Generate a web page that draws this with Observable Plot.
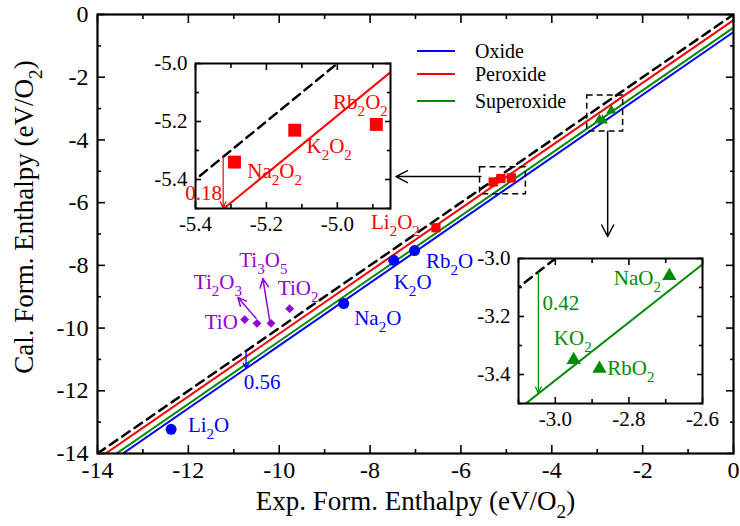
<!DOCTYPE html>
<html>
<head>
<meta charset="utf-8">
<script src="https://cdn.jsdelivr.net/npm/d3@7"></script>
<script src="https://cdn.jsdelivr.net/npm/@observablehq/plot@0.6"></script>
<style>
  html, body { margin: 0; padding: 0; background: white; }
  #wrap { position: relative; width: 740px; height: 526px; font-family: 'Liberation Serif', serif; }
  #wrap > svg { position: absolute; overflow: visible; }
</style>
</head>
<body>
<div id="wrap"></div>
<script>
// ---------------- data ----------------
const oxideNames = ["Li_2O", "Na_2O", "K_2O", "Rb_2O"];
const oxideExp = [-12.38, -8.58, -7.48, -7.02];
const oxideCal = [-13.23, -9.22, -7.84, -7.53];

const peroxideNames = ["Li_2O_2", "Na_2O_2", "K_2O_2", "Rb_2O_2"];
const peroxideExp = [-6.55, -5.29, -5.12, -4.89];
const peroxideCal = [-6.80, -5.34, -5.23, -5.21];

const superoxideNames = ["NaO_2", "KO_2", "RbO_2"];
const superoxideExp = [-2.69, -2.95, -2.88];
const superoxideCal = [-3.06, -3.35, -3.38];

const tiNames = ["TiO", "Ti_2O_3", "Ti_3O_5", "TiO_2"];
const tiExp = [-10.76, -10.49, -10.18, -9.77];
const tiCal = [-9.73, -9.85, -9.85, -9.38];

const fitSeries = ["Oxide", "Peroxide", "Superoxide"];
const fitShift = [0.56, 0.18, 0.42];
const fitColors = ["#0000ff", "#ff0000", "#008c00"];
const tiColor = "#9400d3";

const mainTicksMajor = [-14, -12, -10, -8, -6, -4, -2, 0];
const mainTicksMinor = [-13, -11, -9, -7, -5, -3, -1];

const inset1XMajor = [-5.4, -5.2, -5.0];
const inset1XMinor = [-5.3, -5.1, -4.9];
const inset1YMajor = [-5.4, -5.2, -5.0];
const inset1YMinor = [-5.5, -5.3, -5.1];
const inset2XMajor = [-3.0, -2.8, -2.6];
const inset2XMinor = [-3.1, -2.9, -2.7];
const inset2YMajor = [-3.4, -3.2, -3.0];
const inset2YMinor = [-3.5, -3.3, -3.1];

// ---------------- derived tables ----------------
const zipPts = (names, xs, ys) => names.map((n, i) => ({name: n, x: xs[i], y: ys[i]}));
const oxides = zipPts(oxideNames, oxideExp, oxideCal);
const peroxides = zipPts(peroxideNames, peroxideExp, peroxideCal);
const superoxides = zipPts(superoxideNames, superoxideExp, superoxideCal);
const tis = zipPts(tiNames, tiExp, tiCal);

const span = [-14, 0];
const refLine = span.map(v => ({x: v, y: v}));
const fitLines = fitSeries.flatMap((s, i) => span.map(v => ({series: s, x: v, y: v - fitShift[i]})));

// annotation label anchors (data units)
const mainLabels = [
  {t: "Li_2O", x: -12.01, y: -13.10, c: fitColors[0]},
  {t: "Na_2O", x: -8.35, y: -9.69, c: fitColors[0]},
  {t: "K_2O", x: -7.48, y: -8.55, c: fitColors[0]},
  {t: "Rb_2O", x: -6.77, y: -7.87, c: fitColors[0]},
  {t: "Li_2O_2", x: -7.98, y: -6.62, c: fitColors[1]},
  {t: "Ti_2O_3", x: -11.88, y: -8.54, c: tiColor},
  {t: "Ti_3O_5", x: -10.88, y: -7.84, c: tiColor},
  {t: "TiO_2", x: -10.03, y: -8.74, c: tiColor},
  {t: "0.56", x: -10.78, y: -11.72, c: fitColors[0]}
];
const mainLabelsEnd = [
  {t: "TiO", x: -10.91, y: -9.81, c: tiColor}
];
const zoomBoxes = [
  {x1: -5.58, x2: -4.57, y1: -5.73, y2: -4.87},
  {x1: -3.22, x2: -2.43, y1: -3.73, y2: -2.58}
];
const boxArrows = [
  {x1: -5.56, y1: -5.17, x2: -7.43, y2: -5.17},
  {x1: -2.77, y1: -3.73, x2: -2.77, y2: -7.08}
];
const tiArrows = [
  {x1: -10.51, y1: -9.69, x2: -10.91, y2: -9.02},
  {x1: -10.21, y1: -9.76, x2: -10.36, y2: -8.42}
];
const gapArrowMain = [{x1: -10.73, y1: -10.73, x2: -10.73, y2: -11.29}];

const inset1Labels = [
  {t: "Rb_2O_2", x: -5.012, y: -5.133},
  {t: "K_2O_2", x: -5.087, y: -5.286},
  {t: "Na_2O_2", x: -5.254, y: -5.372}
];
const inset1Gap = [{x1: -5.322, y1: -5.322, x2: -5.322, y2: -5.5}];
const inset2Labels = [
  {t: "NaO_2", x: -2.841, y: -3.069},
  {t: "KO_2", x: -3.004, y: -3.276},
  {t: "RbO_2", x: -2.859, y: -3.379},
  {t: "0.42", x: -3.035, y: -3.155}
];
const inset2Gap = [{x1: -3.046, y1: -3.046, x2: -3.046, y2: -3.466}];

// ---------------- helpers ----------------
const fmtInt = d => String(d);
const fmt1 = d => d.toFixed(1);
function frameAxes(xMaj, xMin, yMaj, yMin, fmt, fs, major, minor, padX, padY) {
  const none = () => "";
  return [
    Plot.axisX({anchor: "bottom", ticks: xMaj, tickSize: 0, tickPadding: padX, tickFormat: fmt, fontSize: fs, label: null}),
    Plot.axisY({anchor: "left", ticks: yMaj, tickSize: 0, tickPadding: padY, tickFormat: fmt, fontSize: fs, label: null}),
    ...["bottom", "top"].flatMap(an => [
      Plot.axisX({anchor: an, ticks: xMaj, tickSize: -major, tickFormat: none, label: null, strokeWidth: 1.6}),
      Plot.axisX({anchor: an, ticks: xMin, tickSize: -minor, tickFormat: none, label: null, strokeWidth: 1.6})
    ]),
    ...["left", "right"].flatMap(an => [
      Plot.axisY({anchor: an, ticks: yMaj, tickSize: -major, tickFormat: none, label: null, strokeWidth: 1.6}),
      Plot.axisY({anchor: an, ticks: yMin, tickSize: -minor, tickFormat: none, label: null, strokeWidth: 1.6})
    ])
  ];
}
function subify(root) {
  root.querySelectorAll("text").forEach(t => {
    const s = t.textContent;
    if (!s.includes("_")) return;
    const fs = parseFloat(getComputedStyle(t).fontSize);
    const parts = s.split(/(_\w)/).filter(p => p !== "");
    t.textContent = "";
    let lowered = false;
    for (const p of parts) {
      const ts = document.createElementNS("http://www.w3.org/2000/svg", "tspan");
      if (p.startsWith("_")) {
        ts.textContent = p.slice(1);
        ts.setAttribute("font-size", (fs * 0.72).toFixed(1));
        if (!lowered) { ts.setAttribute("dy", (fs * 0.33).toFixed(1)); lowered = true; }
      } else {
        ts.textContent = p;
        if (lowered) { ts.setAttribute("dy", (-fs * 0.33).toFixed(1)); lowered = false; }
      }
      t.appendChild(ts);
    }
  });
}
const baseStyle = {fontFamily: "'Liberation Serif', serif", fontSize: "20px", color: "black", background: "transparent", overflow: "visible"};
const colorScale = {domain: fitSeries, range: fitColors};

// ---------------- main plot ----------------
const main = Plot.plot({
  width: 740, height: 526,
  marginLeft: 97, marginRight: 7, marginTop: 14, marginBottom: 73,
  x: {domain: [-14, 0]},
  y: {domain: [-14, 0]},
  color: colorScale,
  style: baseStyle,
  marks: [
    Plot.line(refLine, {x: "x", y: "y", stroke: "black", strokeWidth: 2.5, strokeDasharray: "9,6", clip: true}),
    Plot.line(fitLines, {x: "x", y: "y", z: "series", stroke: "series", strokeWidth: 2, clip: true}),
    Plot.rect(zoomBoxes, {x1: "x1", x2: "x2", y1: "y1", y2: "y2", fill: "none", stroke: "black", strokeWidth: 1.5, strokeDasharray: "6,4"}),
    Plot.arrow(boxArrows, {x1: "x1", y1: "y1", x2: "x2", y2: "y2", stroke: "black", strokeWidth: 1.5, headLength: 13, headAngle: 55}),
    Plot.arrow(tiArrows, {x1: "x1", y1: "y1", x2: "x2", y2: "y2", stroke: tiColor, strokeWidth: 1.5, headLength: 10, headAngle: 50}),
    Plot.arrow(gapArrowMain, {x1: "x1", y1: "y1", x2: "x2", y2: "y2", stroke: fitColors[0], strokeWidth: 1.3, headLength: 8, headAngle: 55}),
    Plot.dot(oxides, {x: "x", y: "y", r: 5.5, fill: fitColors[0], symbol: "circle"}),
    Plot.dot(peroxides, {x: "x", y: "y", r: 5.2, fill: fitColors[1], symbol: "square"}),
    Plot.dot(superoxides, {x: "x", y: "y", r: 3.8, fill: fitColors[2], symbol: "triangle"}),
    Plot.dot(tis, {x: "x", y: "y", r: 4, fill: tiColor, symbol: "diamond2"}),
    Plot.text(mainLabels, {x: "x", y: "y", text: "t", fill: d => d.c, textAnchor: "start", fontSize: 21}),
    Plot.text(mainLabelsEnd, {x: "x", y: "y", text: "t", fill: d => d.c, textAnchor: "end", fontSize: 21}),
    ...frameAxes(mainTicksMajor, mainTicksMinor, mainTicksMajor, mainTicksMinor, fmtInt, 24, 8, 4, 7, 9),
    Plot.text(["Exp. Form. Enthalpy (eV/O_2)"], {frameAnchor: "bottom", dy: 56, fontSize: 27, textAnchor: "middle"}),
    Plot.text(["Cal. Form. Enthalpy (eV/O_2)"], {frameAnchor: "left", dx: -73, dy: -17, rotate: -90, fontSize: 27, textAnchor: "middle"}),
    Plot.frame({stroke: "black", strokeWidth: 2.2})
  ]
});

// ---------------- inset 1 (peroxides) ----------------
const inset1 = Plot.plot({
  width: 255, height: 185,
  marginLeft: 50, marginRight: 10, marginTop: 10, marginBottom: 30,
  x: {domain: [-5.4, -4.85]},
  y: {domain: [-5.5, -5.0]},
  style: baseStyle,
  marks: [
    Plot.frame({fill: "white", stroke: "none"}),
    Plot.line(refLine, {x: "x", y: "y", stroke: "black", strokeWidth: 2.5, strokeDasharray: "9,6", clip: true}),
    Plot.line(fitLines.filter(d => d.series === "Peroxide"), {x: "x", y: "y", stroke: fitColors[1], strokeWidth: 2, clip: true}),
    Plot.dot(peroxides.filter(d => d.x > -5.4), {x: "x", y: "y", r: 7.3, fill: fitColors[1], symbol: "square"}),
    Plot.arrow(inset1Gap, {x1: "x1", y1: "y1", x2: "x2", y2: "y2", stroke: fitColors[1], strokeWidth: 1.2, headLength: 9, headAngle: 45}),
    Plot.text(inset1Labels, {x: "x", y: "y", text: "t", fill: fitColors[1], textAnchor: "start", fontSize: 21}),
    Plot.text(["0.18"], {x: -5.325, y: -5.449, fill: fitColors[1], textAnchor: "end", fontSize: 21}),
    ...frameAxes(inset1XMajor, inset1XMinor, inset1YMajor, inset1YMinor, fmt1, 21, 6, 4, 8, 8),
    Plot.frame({stroke: "black", strokeWidth: 2})
  ]
});

// ---------------- inset 2 (superoxides) ----------------
const inset2 = Plot.plot({
  width: 246, height: 185,
  marginLeft: 50, marginRight: 12, marginTop: 10, marginBottom: 30,
  x: {domain: [-3.1, -2.6]},
  y: {domain: [-3.5, -3.0]},
  style: baseStyle,
  marks: [
    Plot.frame({fill: "white", stroke: "none"}),
    Plot.line(refLine, {x: "x", y: "y", stroke: "black", strokeWidth: 2.5, strokeDasharray: "9,6", clip: true}),
    Plot.line(fitLines.filter(d => d.series === "Superoxide"), {x: "x", y: "y", stroke: fitColors[2], strokeWidth: 2, clip: true}),
    Plot.dot(superoxides, {x: "x", y: "y", r: 5.3, fill: fitColors[2], symbol: "triangle"}),
    Plot.arrow(inset2Gap, {x1: "x1", y1: "y1", x2: "x2", y2: "y2", stroke: fitColors[2], strokeWidth: 1.2, headLength: 9, headAngle: 45}),
    Plot.text(inset2Labels, {x: "x", y: "y", text: "t", fill: fitColors[2], textAnchor: "start", fontSize: 21}),
    ...frameAxes(inset2XMajor, inset2XMinor, inset2YMajor, inset2YMinor, fmt1, 21, 6, 4, 8, 8),
    Plot.frame({stroke: "black", strokeWidth: 2})
  ]
});

// ---------------- assemble ----------------
const wrap = document.getElementById("wrap");
main.style.left = "0px"; main.style.top = "0px";
inset1.style.left = "145px"; inset1.style.top = "53px";
inset2.style.left = "468px"; inset2.style.top = "248px";
wrap.appendChild(main);
wrap.appendChild(inset1);
wrap.appendChild(inset2);

// legend
const ns = "http://www.w3.org/2000/svg";
const leg = document.createElementNS(ns, "svg");
leg.setAttribute("width", 140); leg.setAttribute("height", 80);
leg.style.left = "410px"; leg.style.top = "36px";
const legY = [15, 38, 65];
fitSeries.forEach((s, i) => {
  const ln = document.createElementNS(ns, "line");
  ln.setAttribute("x1", 7); ln.setAttribute("x2", 45);
  ln.setAttribute("y1", legY[i]); ln.setAttribute("y2", legY[i]);
  ln.setAttribute("stroke", fitColors[i]); ln.setAttribute("stroke-width", 2.2);
  leg.appendChild(ln);
  const tx = document.createElementNS(ns, "text");
  tx.setAttribute("x", 65); tx.setAttribute("y", legY[i]); tx.setAttribute("dy", "0.33em");
  tx.setAttribute("font-family", "'Liberation Serif', serif"); tx.setAttribute("font-size", 20);
  tx.textContent = s;
  leg.appendChild(tx);
});
wrap.appendChild(leg);

subify(wrap);
</script>
</body>
</html>
